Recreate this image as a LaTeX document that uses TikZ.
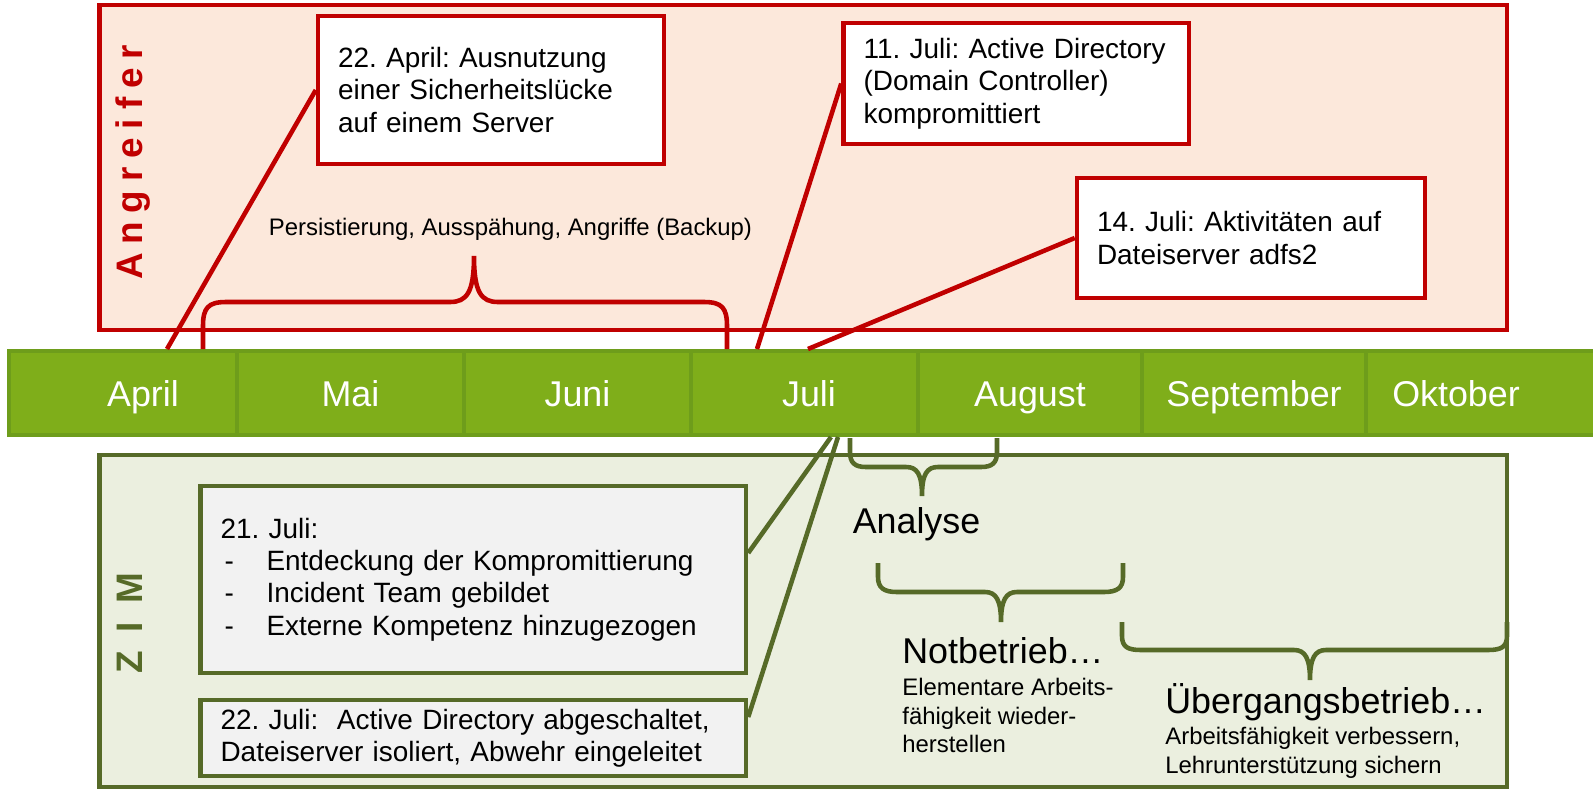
\documentclass[tikz,border=0pt]{standalone}
\usepackage{fontspec}
\setmainfont{Liberation Sans}
\newfontfamily\spacedfont[LetterSpace=24]{Liberation Sans}
\newfontfamily\widefont[LetterSpace=50]{Liberation Sans}
\usepackage{xcolor}
\usetikzlibrary{positioning, calc}

\definecolor{angred}{RGB}{192,0,0}
\definecolor{angfill}{RGB}{252,232,219}
\definecolor{zimgreen}{RGB}{86,106,40}
\definecolor{zimfill}{RGB}{235,239,223}
\definecolor{boxgray}{RGB}{242,242,242}
\definecolor{barfill}{RGB}{127,174,26}
\definecolor{barline}{RGB}{110,157,27}

\frenchspacing
\hyphenpenalty=10000

\begin{document}
\begin{tikzpicture}[x=0.02cm, y=-0.02cm,
            layer/.style={rectangle, line width=2.6pt, minimum width=28.15cm},
            month/.style={rectangle, draw=barline, fill=barfill, line width=2.5pt, minimum height=1.68cm, outer sep=0pt, inner sep=0pt, text=white, font=\fontsize{20.4}{24}\selectfont, text height=0.52cm, text depth=0cm},
            attbox/.style={rectangle, draw=angred, line width=2.6pt, fill=white, align=left, inner xsep=0.4cm, font=\fontsize{15.9}{18.4}\selectfont},
            zimbox/.style={rectangle, draw=zimgreen, line width=2.6pt, fill=boxgray, align=left, inner xsep=0.4cm, font=\fontsize{15.9}{18.4}\selectfont},
            redline/.style={draw=angred, line width=2.6pt},
            greenline/.style={draw=zimgreen, line width=2.6pt},
            bigtxt/.style={inner sep=0pt, font=\fontsize{20.4}{24}\selectfont},
            smalltxt/.style={inner sep=0pt, align=left, font=\fontsize{13.6}{16.2}\selectfont}
        ]
            \useasboundingbox (0,0) rectangle (1593,789);

% Layers
            \node[layer, draw=angred, fill=angfill, minimum height=6.5cm] (attacker) at (803.25,167.5) {};
            \node[layer, draw=zimgreen, fill=zimfill, minimum height=6.64cm] (zim) at (803.25,621) {};
            \node[rotate=90, text=angred, font={\spacedfont\bfseries\fontsize{21}{24}\selectfont}, text height=0.53cm, text depth=0cm, inner sep=0pt] (attlabel) at (129.5,162.5) {Angreifer};
            \node[rotate=90, text=zimgreen, font={\widefont\bfseries\fontsize{21}{24}\selectfont}, text height=0.53cm, text depth=0cm, inner sep=0pt] (zimlabel) at (129.5,623) {ZIM};

% Timeline
            \node[month, minimum width=4.56cm] (apr) at (123,393) {\hspace*{0.8cm}April};
            \node[month, minimum width=4.54cm] (mai) at (350.5,393) {Mai};
            \node[month, minimum width=4.54cm] (jun) at (577.5,393) {Juni};
            \node[month, minimum width=4.54cm] (jul) at (804.5,393) {\hspace*{0.18cm}Juli};
            \node[month, minimum width=4.48cm] (aug) at (1030,393) {August};
            \node[month, minimum width=4.48cm] (sep) at (1254,393) {September};
            \node[month, minimum width=4.68cm] (okt) at (1483,393) {Oktober\hspace*{1.08cm}};

% Attacker events
            \node[attbox, text width=6.12cm, minimum height=2.96cm] (exploit) at (491,90) {22. April: Ausnutzung\\einer Sicherheitslücke\\auf einem Server};
            \node[attbox, text width=6.11cm, minimum height=2.42cm] (adcomp) at (1016.25,83.5) {11. Juli: Active Directory\\(Domain Controller)\\kompromittiert};
            \node[attbox, text width=6.16cm, minimum height=2.4cm] (fileact) at (1251,238) {14. Juli: Aktivitäten auf\\Dateiserver adfs2};
            \node[anchor=base, inner sep=0pt, font=\fontsize{13.6}{16.2}\selectfont] (persist) at (510.5,235) {Persistierung, Ausspähung, Angriffe (Backup)};

            \coordinate (aprpt) at (167,349);
            \coordinate (julpt) at (757,349);
            \coordinate (julptb) at (808,349);
            \draw[redline] (aprpt) -- (exploit.west);
            \draw[redline] (julpt) -- (adcomp.west);
            \draw[redline] (julptb) -- (fileact.west);
            \draw[redline] (203,349) -- (203,326) .. controls (203,308) and (208,302) .. (226,302) -- (450,302) .. controls (467,302) and (474,292) .. (474,256) .. controls (474,292) and (481,302) .. (498,302) -- (704,302) .. controls (722,302) and (727,308) .. (727,326) -- (727,349);

% ZIM events
            \node[zimbox, text width=10.11cm, minimum height=3.74cm] (discover) at (473.25,579.5) {21. Juli:\\\makebox[0.92cm][l]{\hspace{0.08cm}-}Entdeckung der Kompromittierung\\\makebox[0.92cm][l]{\hspace{0.08cm}-}Incident Team gebildet\\\makebox[0.92cm][l]{\hspace{0.08cm}-}Externe Kompetenz hinzugezogen};
            \node[zimbox, text width=10.11cm, minimum height=1.52cm, inner ysep=0.1cm] (isolate) at (473.25,738) {22. Juli:\ \ Active Directory abgeschaltet,\\Dateiserver isoliert, Abwehr eingeleitet};

            \coordinate (zimpt) at (831,437);
            \coordinate (zimptb) at (838,437);
            \draw[greenline] (zimpt) -- ([yshift=0.53cm]discover.east);
            \draw[greenline] (zimptb) -- ([yshift=0.42cm]isolate.east);

% Phases
            \draw[greenline] (850,438) -- (850,452) .. controls (850,463) and (855,467) .. (866,467) -- (906,467) .. controls (917,467) and (922,474) .. (922,496) .. controls (922,474) and (927,467) .. (938,467) -- (981,467) .. controls (992,467) and (997,463) .. (997,452) -- (997,438);
            \node[bigtxt, anchor=base] (analyse) at (916.5,533) {Analyse};

            \draw[greenline] (878,563) -- (878,577) .. controls (878,588) and (884,592) .. (897,592) -- (985,592) .. controls (996,592) and (1001,600) .. (1001,622) .. controls (1001,600) and (1006,592) .. (1017,592) -- (1104,592) .. controls (1117,592) and (1123,588) .. (1123,577) -- (1123,563);
            \node[bigtxt, anchor=base west] (emergency) at (902,663) {Notbetrieb…};
            \node[smalltxt, anchor=north west] (emergencytxt) at (902,678) {Elementare Arbeits-\\fähigkeit wieder-\\herstellen};

            \draw[greenline] (1122,622) -- (1122,636) .. controls (1122,647) and (1128,650) .. (1141,650) -- (1294,650) .. controls (1305,650) and (1310,658) .. (1310,680) .. controls (1310,658) and (1315,650) .. (1326,650) -- (1488,650) .. controls (1501,650) and (1507,647) .. (1507,636) -- (1507,622);
            \node[bigtxt, anchor=base west] (transition) at (1165,713) {Übergangsbetrieb…};
            \node[smalltxt, anchor=north west] (transitiontxt) at (1165,727) {Arbeitsfähigkeit verbessern,\\Lehrunterstützung sichern};

        \end{tikzpicture}
\end{document}
